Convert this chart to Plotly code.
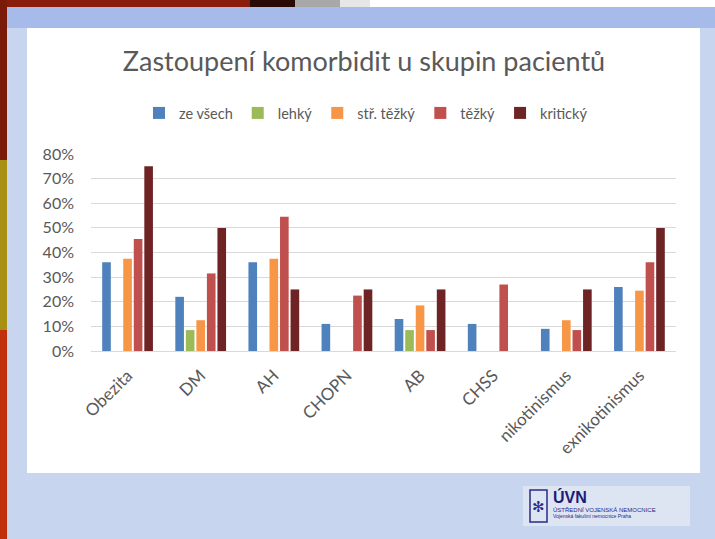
import plotly.graph_objects as go

categories = ["Obezita", "DM", "AH", "CHOPN", "AB", "CHSS", "nikotinismus", "exnikotinismus"]
series_names = ["ze všech", "lehký", "stř. těžký", "těžký", "kritický"]
ze_vsech = [0.36, 0.22, 0.36, 0.11, 0.13, 0.11, 0.09, 0.26]
lehky = [None, 0.085, None, None, 0.085, None, None, None]
str_tezky = [0.375, 0.125, 0.375, None, 0.185, None, 0.125, 0.245]
tezky = [0.455, 0.315, 0.545, 0.225, 0.085, 0.27, 0.085, 0.36]
kriticky = [0.75, 0.50, 0.25, 0.25, 0.25, None, 0.25, 0.50]
y_ticks = [0, 0.1, 0.2, 0.3, 0.4, 0.5, 0.6, 0.7, 0.8]

colors = ["#4F81BD", "#9BBB59", "#F79646", "#C0504D", "#6E2424"]
values = [ze_vsech, lehky, str_tezky, tezky, kriticky]

W, H = 715, 539
fig = go.Figure()
for name, vals, col in zip(series_names, values, colors):
    fig.add_trace(go.Bar(x=categories, y=vals, name=name, marker=dict(color=col, line=dict(width=0))))

font_family = "Lato, 'Open Sans', sans-serif"
gray = "#595959"

L, T, R, B = 91, 154, 676, 351
pw, ph = R - L, B - T

def to_paper(x0, y0, x1, y1):
    return ((x0 - L) / pw, (B - y1) / ph, (x1 - L) / pw, (B - y0) / ph)

raw = [
    (0, 0, 715, 539, "#c7d5ef"),
    (7, 7, 715, 28, "#a6bbea"),
    (0, 0, 250, 7, "#8a1c0c"),
    (250, 0, 295, 7, "#2a0a05"),
    (295, 0, 340, 7, "#a8a8a8"),
    (340, 0, 370, 7, "#e6e6e6"),
    (370, 0, 715, 7, "#ffffff"),
    (0, 0, 7, 160, "#7a1a08"),
    (0, 160, 7, 330, "#a89012"),
    (0, 330, 7, 539, "#c0300a"),
    (27, 28, 700, 473, "#ffffff"),
    (523, 486, 690, 526, "#dde4f2"),
]
shape_list = []
for x0, y0, x1, y1, c in raw:
    a, b, cc, d = to_paper(x0, y0, x1, y1)
    shape_list.append(dict(type="rect", xref="paper", yref="paper", layer="below",
                           x0=a, y0=b, x1=cc, y1=d, fillcolor=c, line=dict(width=0)))
a, b, cc, d = to_paper(530, 490, 547, 522)
shape_list.append(dict(type="rect", xref="paper", yref="paper", layer="above",
                       x0=a, y0=b, x1=cc, y1=d, fillcolor="rgba(0,0,0,0)",
                       line=dict(color="#2a2a8a", width=1.5)))

def ann(text, x, y, size, color, bold=False, xanchor="left"):
    xa, ya = (x - L) / pw, (B - y) / ph
    return dict(text=f"<b>{text}</b>" if bold else text, x=xa, y=ya, xref="paper", yref="paper",
                showarrow=False, xanchor=xanchor, yanchor="middle",
                font=dict(size=size, color=color, family="Liberation Sans, Arial, sans-serif"))

annotations = [
    ann("✻", 538.5, 506, 15, "#2a2a8a", xanchor="center"),
    ann("ÚVN", 551, 497, 16, "#1c1c78", bold=True),
    ann("ÚSTŘEDNÍ VOJENSKÁ NEMOCNICE", 551, 509, 6, "#2a2a8a"),
    ann("Vojenská fakultní nemocnice Praha", 551, 516, 5, "#2a2a8a"),
]

fig.update_layout(
    width=W, height=H,
    margin=dict(l=L, r=W - R, t=T, b=H - B, pad=0),
    paper_bgcolor="#c7d5ef",
    plot_bgcolor="rgba(0,0,0,0)",
    barmode="group", bargap=0.28, bargroupgap=0.18,
    title=dict(text="Zastoupení komorbidit u skupin pacientů", x=364 / W, xanchor="center",
               y=1 - 62 / H, yanchor="middle", yref="container",
               font=dict(size=27, color=gray, family=font_family)),
    legend=dict(orientation="h", x=366 / W, xanchor="center", xref="container",
                y=1 - 113 / H, yref="container", yanchor="middle",
                font=dict(size=14.5, color=gray, family=font_family),
                bgcolor="rgba(0,0,0,0)", itemwidth=30, traceorder="normal"),
    xaxis=dict(tickangle=-45, tickfont=dict(size=17, color=gray, family=font_family),
               showgrid=False, showline=True, linecolor="#d9d9d9", ticks="",
               ticklabelstandoff=7),
    yaxis=dict(range=[0, 0.8], tickvals=y_ticks, tickformat=".0%",
               tickfont=dict(size=16, color=gray, family=font_family),
               showgrid=True, gridcolor="#d9d9d9", gridwidth=1, zeroline=False, ticks="",
               ticklabelstandoff=16),
    shapes=shape_list,
    annotations=annotations,
)

fig.write_html("out.html", config={"displayModeBar": False},
               post_script="document.body.style.margin='0';document.body.style.padding='0';")
